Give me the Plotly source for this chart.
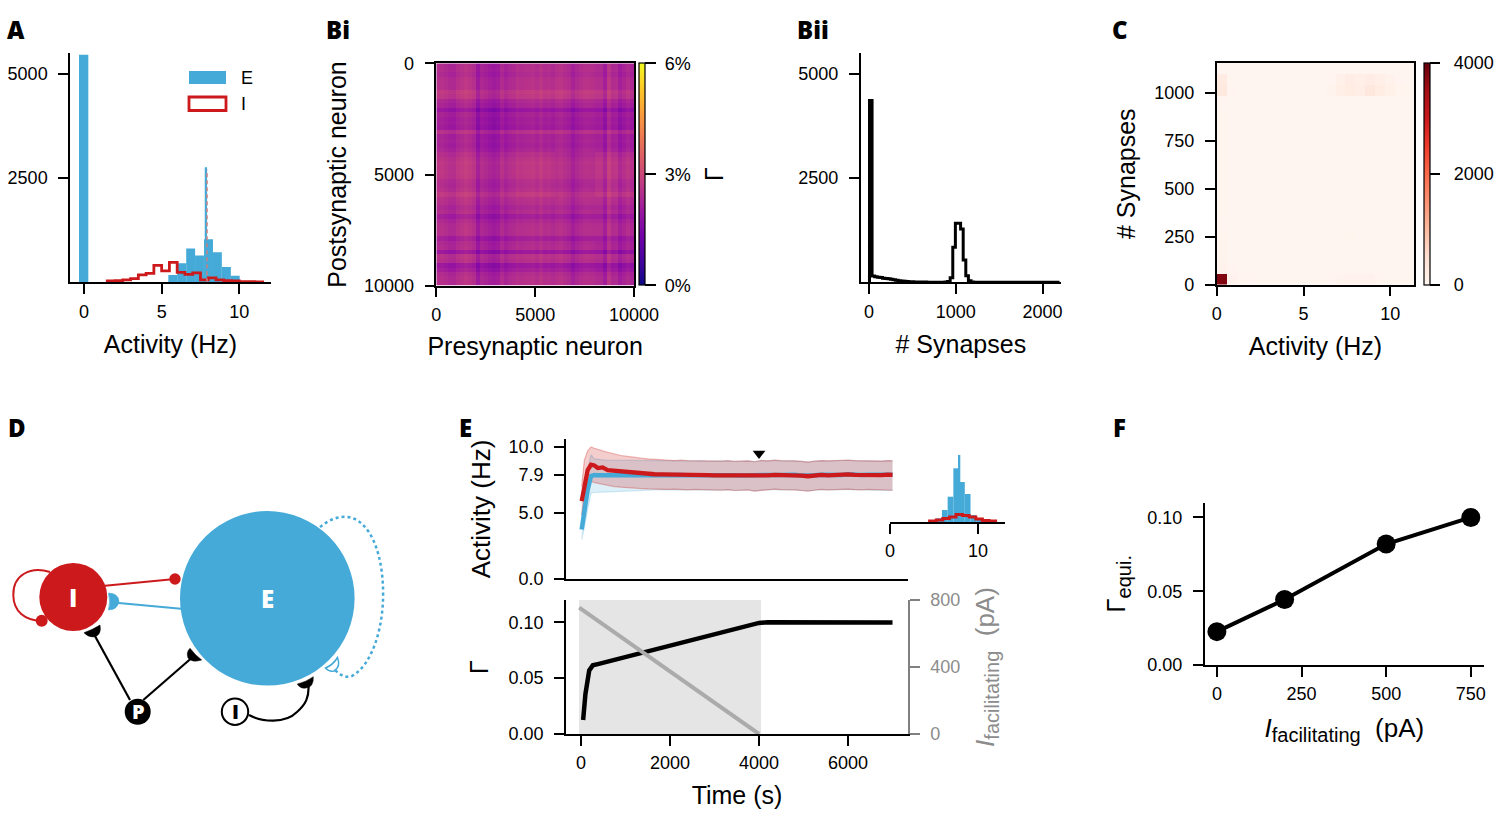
import plotly.graph_objects as go

W, H = 1500, 822
BLUE = '#45AAD8'
RED = '#CC1A1C'
FONT = 'Liberation Sans'

# --- Panel A: activity histogram
e_left = [-0.32, 5.43, 6.0, 6.58, 7.15, 7.73, 8.3, 8.88, 9.45]
e_width = [0.6, 0.575, 0.575, 0.575, 0.575, 0.575, 0.575, 0.575, 0.575]
e_counts = [5460, 176, 456, 808, 640, 1032, 720, 368, 160]
spike_x = [7.85]
spike_counts = [2760]
mean_rate = [7.92, 7.92]
mean_rate_y = [0, 2700]
i_edges = [1.5, 2, 2.5, 3, 3.5, 4, 4.5, 5, 5.5, 6, 6.5, 7, 7.5, 8, 8.5, 9, 9.5, 10, 10.5, 11, 11.5]
i_counts = [32, 40, 56, 88, 176, 216, 408, 272, 480, 240, 192, 224, 56, 104, 56, 40, 32, 16, 16, 8]

# --- Panel Bi: connectivity matrix, stripe profiles (% around the mean)
gamma_mean = 2.33
row_profile = [0.0, .04, -.04, .08, .1, .1, .32, .25, -.04, -.14, -.36, -.08, -.18, -.14, -.22, .22, -.08, -.04, -.1, 0.0,
               .04, .14, .22, .18, .22, .18, .04, 0.0, .08, .28, .14, .1, -.04, .04, -.25, -.04, .08, .1, .1, -.22,
               -.04, 0.0, -.4, .14, .08, -.4, -.25, 0.0, .08, .08]
col_profile = [.04, .08, 0.0, -.08, -.1, .08, .14, .22, .14, .04, -.28, 0.0, -.08, -.18, -.25, -.18, .08, -.08, .04, .08,
               .1, .04, .08, .1, .14, .04, .18, .04, .08, 0.0, .08, .14, .04, -.04, -.25, -.1, 0.0, .08, .08, .04,
               .04, .04, -.25, .25, 0.0, .04, -.25, -.1, .04, -.08]
patches = [[.04, -.08, .04, .08, 0.0],
           [-.04, -.18, -.08, -.04, -.1],
           [.08, -.04, .08, -.04, .1],
           [.04, -.08, 0.0, 0.0, 0.0],
           [.04, -.04, .04, .04, -.04]]
neuron_step = 200

# --- Panel Bii: synapse count histogram
syn_start, syn_width = 5, 30
syn_counts = [4360, 150, 135, 120, 115, 100, 90, 85, 75, 60, 50, 40, 32, 26, 20, 16, 13, 10, 8, 7,
              6, 5, 4, 4, 3, 3, 3, 2, 2, 10, 20, 110, 840, 1416, 1416, 1280, 536, 160, 40, 10,
              0, 0, 0, 0, 0, 0, 0, 0, 0, 0, 0, 0, 0, 0, 0, 0, 0, 0, 0, 0,
              0, 0, 0, 0, 0, 0, 0, 0, 0, 0, 0, 0, 0]

# --- Panel C: joint histogram, row 0 is the bottom row
act_bin, syn_bin = 0.569, 57.8
joint = [
    [3800, 70, 30, 20, 10, 10, 10, 10, 10, 10, 10, 20, 40, 60, 60, 60, 30, 10, 10, 10],
    [60, 20, 0, 0, 0, 0, 0, 0, 0, 0, 0, 0, 0, 0, 0, 0, 0, 0, 0, 0],
    [50, 0, 0, 0, 0, 0, 0, 0, 0, 0, 0, 0, 0, 0, 0, 0, 0, 0, 0, 0],
    [40, 0, 0, 0, 0, 0, 0, 0, 0, 0, 0, 0, 0, 0, 0, 0, 0, 0, 0, 0],
    [30, 0, 0, 0, 0, 0, 0, 0, 0, 0, 0, 0, 0, 10, 0, 0, 0, 0, 0, 0],
    [20, 0, 0, 0, 0, 0, 0, 0, 0, 0, 0, 0, 0, 0, 0, 0, 0, 0, 0, 0],
    [10, 0, 0, 0, 0, 0, 0, 0, 0, 0, 0, 0, 0, 0, 0, 0, 0, 0, 0, 0],
    [10, 0, 0, 0, 0, 0, 0, 0, 0, 0, 0, 0, 0, 0, 0, 0, 0, 0, 0, 0],
    [10, 0, 0, 0, 0, 0, 0, 0, 0, 0, 0, 0, 0, 0, 0, 0, 0, 0, 0, 0],
    [10, 0, 0, 0, 0, 0, 0, 0, 0, 0, 0, 0, 0, 0, 0, 0, 0, 0, 0, 0],
    [10, 0, 0, 0, 0, 0, 0, 0, 0, 0, 0, 0, 0, 0, 0, 0, 0, 0, 0, 0],
    [10, 0, 0, 0, 0, 0, 0, 0, 0, 0, 0, 0, 0, 0, 0, 0, 0, 0, 0, 0],
    [10, 0, 0, 0, 0, 0, 0, 0, 0, 0, 0, 0, 0, 0, 0, 0, 0, 0, 0, 0],
    [10, 0, 0, 0, 0, 0, 0, 0, 0, 0, 0, 0, 0, 0, 0, 0, 0, 0, 0, 0],
    [10, 0, 0, 0, 0, 0, 0, 0, 0, 0, 0, 0, 0, 0, 0, 0, 0, 0, 0, 0],
    [10, 0, 0, 0, 0, 0, 0, 0, 0, 0, 0, 0, 0, 0, 0, 0, 0, 0, 0, 0],
    [20, 0, 0, 0, 0, 0, 0, 0, 0, 0, 0, 0, 0, 0, 0, 0, 0, 0, 0, 0],
    [280, 20, 0, 0, 0, 0, 0, 0, 0, 0, 0, 40, 150, 220, 170, 300, 200, 130, 30, 10],
    [240, 10, 0, 0, 0, 0, 0, 0, 0, 0, 0, 20, 120, 180, 150, 190, 150, 90, 20, 0],
    [0, 0, 0, 0, 0, 0, 0, 0, 0, 0, 0, 0, 0, 0, 0, 0, 0, 0, 0, 0],
]
reds = ['#fff5f0', '#fee0d2', '#fcbba1', '#fc9272', '#fb6a4a', '#ef3b2c', '#cb181d', '#a50f15', '#67000d']

# --- Panel E: activity over time
t_e = [15, 75, 150, 225, 300, 375, 487, 600, 750, 900, 1050, 1200, 1350, 1500, 1650, 1800,
       1950, 2100, 2250, 2400, 2550, 2700, 2850, 3000, 3150, 3300, 3450, 3600, 3750, 3900, 4050, 4200, 4350, 4500,
       4650, 4800, 4950, 5100, 5250, 5400, 5550, 5700, 5850, 6000, 6150, 6300, 6450, 6600, 6750, 6900, 7000]
red_mean = [5.9, 7.0, 8.25, 8.65, 8.6, 8.4, 8.45, 8.25, 8.2, 8.15, 8.08, 8.0, 7.98, 7.95, 7.93, 7.92,
            7.9, 7.88, 7.9, 7.87, 7.85, 7.88, 7.86, 7.85, 7.84, 7.87, 7.84, 7.83, 7.85, 7.8, 7.86, 7.84, 7.88, 7.87,
            7.9, 7.88, 7.82, 7.78, 7.85, 7.88, 7.85, 7.9, 7.87, 7.92, 7.88, 7.86, 7.9, 7.88, 7.86, 7.9, 7.88]
blue_mean = [3.75, 5.1, 6.75, 7.8, 7.87, 7.85, 7.88, 7.85, 7.85, 7.86, 7.85, 7.87, 7.86, 7.85, 7.87, 7.85,
             7.88, 7.86, 7.87, 7.85, 7.86, 7.88, 7.85, 7.86, 7.84, 7.87, 7.85, 7.84, 7.86, 7.83, 7.87, 7.85, 7.88, 7.87,
             7.9, 7.9, 7.84, 7.82, 7.86, 7.9, 7.87, 7.9, 7.88, 7.93, 7.89, 7.87, 7.9, 7.89, 7.87, 7.9, 7.89]
red_up = [7.0, 9.0, 9.7, 10.0, 9.9, 9.8, 9.7, 9.6, 9.45, 9.35, 9.28, 9.2, 9.15, 9.1, 9.05, 9.02,
          9.0, 8.97, 9.0, 8.96, 8.95, 8.98, 8.93, 8.95, 8.92, 8.96, 8.9, 8.92, 8.95, 8.88, 8.98, 8.95, 9.0, 8.96,
          8.98, 8.95, 8.9, 8.85, 8.92, 8.97, 8.95, 8.98, 8.96, 9.0, 8.97, 8.95, 8.98, 8.96, 8.93, 8.97, 8.95]
red_lo = [4.85, 5.9, 6.9, 7.4, 7.3, 7.25, 7.15, 7.05, 7.0, 6.95, 6.9, 6.88, 6.85, 6.82, 6.8, 6.8,
          6.78, 6.8, 6.77, 6.75, 6.78, 6.76, 6.74, 6.75, 6.72, 6.76, 6.7, 6.72, 6.75, 6.66, 6.72, 6.74, 6.8, 6.76,
          6.78, 6.75, 6.7, 6.66, 6.72, 6.78, 6.75, 6.78, 6.76, 6.8, 6.76, 6.74, 6.78, 6.76, 6.72, 6.7, 6.72]
blue_up = [4.85, 6.8, 8.3, 9.4, 9.1, 9.05, 9.02, 9.0, 9.0, 8.98, 9.0, 8.97, 8.98, 8.96, 8.97, 8.96,
           8.98, 8.96, 8.98, 8.95, 8.94, 8.97, 8.93, 8.94, 8.92, 8.95, 8.9, 8.91, 8.94, 8.88, 8.97, 8.94, 8.98, 8.95,
           8.97, 8.95, 8.9, 8.86, 8.92, 8.96, 8.94, 8.97, 8.95, 8.99, 8.96, 8.94, 8.97, 8.95, 8.93, 8.96, 8.94]
blue_lo = [3.0, 3.9, 5.3, 6.5, 6.55, 6.55, 6.58, 6.6, 6.62, 6.65, 6.67, 6.68, 6.7, 6.72, 6.74, 6.75,
           6.76, 6.78, 6.76, 6.74, 6.77, 6.75, 6.73, 6.74, 6.72, 6.75, 6.7, 6.72, 6.74, 6.66, 6.73, 6.74, 6.79, 6.75,
           6.77, 6.75, 6.7, 6.67, 6.72, 6.77, 6.75, 6.77, 6.76, 6.79, 6.76, 6.74, 6.77, 6.75, 6.72, 6.7, 6.72]
arrow_t = [4000]
arrow_y = [9.5]

# inset histogram
inset_e_left = [5.25, 5.9, 6.55, 7.2, 7.85, 8.5, 9.15, 9.8]
inset_e_counts = [155, 500, 1057, 2244, 1670, 1170, 290, 85]
inset_spike_x = [7.9]
inset_spike = [2800]
inset_i_edges = [4.5, 5.25, 6, 6.75, 7.5, 8.25, 9, 9.75, 10.5, 11.25, 12]
inset_i_counts = [40, 85, 145, 210, 315, 270, 210, 125, 60, 40]

# --- Panel E, lower: Gamma and facilitating current
t_gamma = [48, 100, 185, 265, 400, 1000, 2000, 3000, 4000, 4200, 5000, 6000, 7000]
gamma = [0.0125, 0.036, 0.057, 0.0615, 0.0628, 0.069, 0.0791, 0.0893, 0.0995, 0.1, 0.1, 0.0998, 0.0998]
t_current = [-40, 4000]
current = [755, 0]
stim_window = [-45, 4045]

# --- Panel F
i_fac = [0, 200, 500, 750]
gamma_equi = [0.0226, 0.0444, 0.082, 0.1]

I_FAC = '<i>I</i><sub><span style="font-size:20px">facilitating</span></sub>&nbsp;&nbsp;(pA)'
G_EQUI = 'Γ<sub><span style="font-size:20px">equi.</span></sub>'


def px(x):
    return x / W


def py(y):
    return 1 - y / H


def dom_x(x0, x1):
    return [px(x0), px(x1)]


def dom_y(y0, y1):
    return [py(y1), py(y0)]


def step_xy(edges, counts):
    xs = [edges[0]] + list(edges)
    ys = [0] + list(counts) + [0]
    return xs, ys


def axis(tickvals=None, ticktext=None, size=18, standoff=7, **kw):
    d = dict(showgrid=False, zeroline=False, showline=True, linecolor='black', linewidth=1.5,
             ticks='outside', ticklen=10, tickwidth=1.5, tickcolor='black', color='black',
             tickfont=dict(family=FONT, size=size, color='black'), ticklabelstandoff=standoff)
    if tickvals is not None:
        d['tickmode'] = 'array'
        d['tickvals'] = tickvals
        d['ticktext'] = ticktext if ticktext is not None else [str(v) for v in tickvals]
    d.update(kw)
    return d


def title(text, standoff, size=25, color='black'):
    return dict(text=text, standoff=standoff, font=dict(family=FONT, size=size, color=color))


fig = go.Figure()

# A
fig.add_trace(go.Bar(x=[l + w / 2 for l, w in zip(e_left, e_width)], y=e_counts, width=e_width,
                     marker=dict(color=BLUE, line=dict(width=0)), xaxis='x', yaxis='y'))
fig.add_trace(go.Bar(x=spike_x, y=spike_counts, width=0.15, marker=dict(color=BLUE, line=dict(width=0)),
                     xaxis='x', yaxis='y'))
sx, sy = step_xy(i_edges, i_counts)
fig.add_trace(go.Scatter(x=sx, y=sy, mode='lines', line=dict(color=RED, width=2.8, shape='hv'),
                         cliponaxis=False, xaxis='x', yaxis='y'))
fig.add_trace(go.Scatter(x=mean_rate, y=mean_rate_y, mode='lines', line=dict(color='#C98080', width=1.5, dash='4px,3px'),
                         xaxis='x', yaxis='y'))

# Bi
n = len(row_profile)
gamma_z = [[gamma_mean + row_profile[i] + col_profile[j] + patches[i // 10][j // 10] for j in range(n)] for i in range(n)]
neurons = [neuron_step * (k + 0.5) for k in range(n)]
fig.add_trace(go.Heatmap(z=gamma_z, x=neurons, y=neurons, colorscale='Plasma', zmin=0, zmax=6,
                         xaxis='x2', yaxis='y2',
                         colorbar=dict(x=px(639), xanchor='left', y=py(63.3), yanchor='top', xpad=0, ypad=0,
                                       lenmode='pixels', len=222.4, thicknessmode='pixels', thickness=6,
                                       outlinewidth=1.2, outlinecolor='black', ticks='outside', ticklen=11,
                                       tickwidth=1.5, tickcolor='black', tickmode='array', tickvals=[0, 3, 6],
                                       ticktext=['\u00a00%', '\u00a03%', '\u00a06%'],
                                       tickfont=dict(family=FONT, size=18, color='black'))))

# Bii
syn_edges = [syn_start + syn_width * k for k in range(len(syn_counts) + 1)]
sx, sy = step_xy(syn_edges, syn_counts)
fig.add_trace(go.Scatter(x=sx, y=sy, mode='lines', line=dict(color='black', width=3, shape='hv'),
                         cliponaxis=False, xaxis='x3', yaxis='y3'))

# C
fig.add_trace(go.Heatmap(z=joint, x=[act_bin * (k + 0.5) for k in range(20)], y=[syn_bin * (k + 0.5) for k in range(20)],
                         colorscale=[[k / 8, c] for k, c in enumerate(reds)], zmin=0, zmax=4000, xaxis='x4', yaxis='y4',
                         colorbar=dict(x=px(1424), xanchor='left', y=py(62.7), yanchor='top', xpad=0, ypad=0,
                                       lenmode='pixels', len=222, thicknessmode='pixels', thickness=6,
                                       outlinewidth=1.2, outlinecolor='black', ticks='outside', ticklen=10,
                                       tickwidth=1.5, tickcolor='black', tickmode='array', tickvals=[0, 2000, 4000],
                                       ticktext=['\u00a0\u00a00', '\u00a0\u00a02000', '\u00a0\u00a04000'],
                                       tickfont=dict(family=FONT, size=18, color='black'))))

# E upper
for up, lo, col, fillcol in [(blue_up, blue_lo, 'rgba(69,170,216,0.25)', 'rgba(69,170,216,0.18)'),
                             (red_up, red_lo, 'rgba(204,26,28,0.3)', 'rgba(204,26,28,0.22)')]:
    fig.add_trace(go.Scatter(x=t_e, y=up, mode='lines', line=dict(color=col, width=1.2), xaxis='x5', yaxis='y5'))
    fig.add_trace(go.Scatter(x=t_e, y=lo, mode='lines', line=dict(color=col, width=1.2), fill='tonexty', fillcolor=fillcol,
                             xaxis='x5', yaxis='y5'))
fig.add_trace(go.Scatter(x=t_e, y=blue_mean, mode='lines', line=dict(color=BLUE, width=4.5), xaxis='x5', yaxis='y5'))
fig.add_trace(go.Scatter(x=t_e, y=red_mean, mode='lines', line=dict(color=RED, width=4.3), xaxis='x5', yaxis='y5'))
fig.add_trace(go.Scatter(x=arrow_t, y=arrow_y, mode='markers', marker=dict(symbol='triangle-down', color='black', size=11),
                         xaxis='x5', yaxis='y5'))

# inset
fig.add_trace(go.Bar(x=[l + 0.325 for l in inset_e_left], y=inset_e_counts, width=0.65,
                     marker=dict(color=BLUE, line=dict(width=0)), xaxis='x8', yaxis='y8'))
fig.add_trace(go.Bar(x=inset_spike_x, y=inset_spike, width=0.18, marker=dict(color=BLUE, line=dict(width=0)),
                     xaxis='x8', yaxis='y8'))
sx, sy = step_xy(inset_i_edges, inset_i_counts)
fig.add_trace(go.Scatter(x=sx, y=sy, mode='lines', line=dict(color=RED, width=3, shape='hv'), cliponaxis=False,
                         xaxis='x8', yaxis='y8'))

# E lower
fig.add_trace(go.Scatter(x=t_gamma, y=gamma, mode='lines', line=dict(color='black', width=4.5), xaxis='x6', yaxis='y6'))
fig.add_trace(go.Scatter(x=t_current, y=current, mode='lines', line=dict(color='#ABABAB', width=4), xaxis='x6', yaxis='y7'))

# F
fig.add_trace(go.Scatter(x=i_fac, y=gamma_equi, mode='lines+markers', line=dict(color='black', width=4),
                         marker=dict(color='black', size=19), cliponaxis=False, xaxis='x9', yaxis='y9'))

# panel letters, colourbar label and legend text
annotations = []
for text, x, y in [('A', 16, 30), ('Bi', 338, 29), ('Bii', 813, 29), ('C', 1120, 29),
                   ('D', 17, 427), ('E', 465, 427), ('F', 1119, 427)]:
    annotations.append(dict(text=text, x=px(x), y=py(y), xref='paper', yref='paper', xanchor='center', yanchor='middle',
                            showarrow=False, font=dict(family='Open Sans', size=24, color='black', weight=800)))
for text, x, y, ang, col, size, bold in [
    ('E', 247, 78, 0, 'black', 18, False), ('I', 244, 104, 0, 'black', 18, False),
    ('Γ', 714, 174, -90, 'black', 25, False),
    ('E', 267, 598, 0, 'white', 24, True), ('I', 73, 597, 0, 'white', 24, True),
    ('P', 138, 711, 0, 'white', 20, True), ('I', 235, 711, 0, 'black', 20, True)]:
    annotations.append(dict(text=text, x=px(x), y=py(y), xref='paper', yref='paper', xanchor='center', yanchor='middle',
                            showarrow=False, textangle=ang,
                            font=dict(family='Open Sans' if bold else FONT, size=size, color=col,
                                      weight=800 if bold else 400)))


def path(cmds):
    out = []
    for c in cmds:
        vals = c[1:]
        pts = [f'{px(vals[k]):.5f},{py(vals[k + 1]):.5f}' for k in range(0, len(vals), 2)]
        out.append(c[0] + ' ' + ' '.join(pts))
    return ' '.join(out)


def curve(cmds, color, width=1.8, fill=None, dash=None):
    return dict(type='path', xref='paper', yref='paper', path=path(cmds) + (' Z' if fill else ''),
                line=dict(color=color, width=width, dash=dash or 'solid'), fillcolor=fill)


def disc(cx, cy, r, fill, line=None, width=0):
    return dict(type='circle', xref='paper', yref='paper', x0=px(cx - r), x1=px(cx + r), y0=py(cy + r), y1=py(cy - r),
                fillcolor=fill, line=dict(color=line or fill, width=width))


def rect(x0, y0, x1, y1, fill, line=None, width=0):
    return dict(type='rect', xref='paper', yref='paper', x0=px(x0), x1=px(x1), y0=py(y1), y1=py(y0),
                fillcolor=fill, line=dict(color=line or fill, width=width))


shapes = [
    # stimulation window in panel E
    dict(type='rect', xref='x6', yref='y6', x0=stim_window[0], x1=stim_window[1], y0=0, y1=0.12,
         fillcolor='#E5E5E5', line=dict(width=0), layer='below'),
    # legend of panel A
    rect(189, 71, 226, 84, BLUE),
    rect(189, 97, 226, 110.5, 'white', RED, 2.8),
    # panel D
    curve([('M', 320, 527), ('C', 335, 515, 352, 512, 365, 527), ('C', 378, 542, 384, 570, 383, 600),
           ('C', 382, 630, 372, 665, 352, 676), ('C', 345, 678, 340, 675, 335, 670)], BLUE, 2.5, dash='dot'),
    curve([('M', 50, 572), ('C', 30, 566, 13, 575, 13.3, 595), ('C', 13.5, 612, 25, 620, 41, 621)], RED, 2),
    curve([('M', 105, 585.7), ('L', 175, 579)], RED, 2),
    curve([('M', 181, 608.7), ('L', 116, 602.7)], BLUE, 2),
    curve([('M', 130, 700), ('L', 93.3, 633)], 'black', 2.2),
    curve([('M', 143.3, 700), ('L', 195, 655)], 'black', 2.2),
    curve([('M', 249, 715), ('C', 262, 722, 285, 724, 297, 712), ('C', 306, 704, 309, 697, 308.5, 686)], 'black', 2.2),
    disc(267.3, 598.3, 87.3, BLUE),
    disc(73.3, 597, 34, RED),
    disc(41.7, 620.7, 6, RED),
    disc(175, 579, 5.7, RED),
    curve([('M', 108.3, 593), ('Q', 111, 602, 108.3, 610), ('Q', 118, 610, 119, 601), ('Q', 118, 593, 108.3, 593)], BLUE, 0.5, fill=BLUE),
    curve([('M', 84, 632.7), ('Q', 92, 630, 100, 625), ('Q', 102, 636, 93, 637), ('Q', 88, 637, 84, 632.7)], 'black', 0.5, fill='black'),
    curve([('M', 190, 648.3), ('Q', 195, 655, 201.7, 660), ('Q', 192, 663, 188, 658), ('Q', 186, 652, 190, 648.3)], 'black', 0.5, fill='black'),
    curve([('M', 297.3, 684), ('Q', 306, 682, 313.3, 676.7), ('Q', 314, 687, 306, 688), ('Q', 300, 689, 297.3, 684)], 'black', 0.5, fill='black'),
    curve([('M', 325.5, 668), ('Q', 333, 665, 337.5, 657.5), ('Q', 341, 667, 334, 671), ('Q', 329, 672, 325.5, 668)], BLUE, 1.5, fill='white'),
    disc(137.7, 711.7, 13, 'black'),
    disc(235, 711.7, 13.2, 'white', 'black', 2),
]

fig.update_layout(
    width=W, height=H, margin=dict(l=0, r=0, t=0, b=0, autoexpand=False), paper_bgcolor='white', plot_bgcolor='rgba(0,0,0,0)',
    showlegend=False, barmode='overlay', annotations=annotations, shapes=shapes,
    font=dict(family=FONT, color='black'),
    # A
    xaxis=axis([0, 5, 10], standoff=2, domain=dom_x(70, 271), anchor='y', range=[-0.9, 12.04], title=title('Activity (Hz)', 15)),
    yaxis=axis([2500, 5000], domain=dom_y(53, 282.3), anchor='x', range=[0, 5500]),
    # Bi
    xaxis2=axis([0, 5000, 10000], standoff=2, domain=dom_x(436.3, 634), anchor='y2', range=[0, 10000], mirror=True,
                title=title('Presynaptic neuron', 13)),
    yaxis2=axis([0, 5000, 10000], domain=dom_y(63.3, 285.7), anchor='x2', range=[10000, 0], mirror=True,
                title=title('Postsynaptic neuron', 10)),
    # Bii
    xaxis3=axis([0, 1000, 2000], standoff=2, domain=dom_x(860.7, 1061), anchor='y3', range=[-96, 2212], title=title('# Synapses', 15)),
    yaxis3=axis([2500, 5000], domain=dom_y(53, 282.3), anchor='x3', range=[0, 5500]),
    # C
    xaxis4=axis([0, 5, 10], standoff=2, domain=dom_x(1216.7, 1414.3), anchor='y4', range=[0, 11.38], mirror=True,
                title=title('Activity (Hz)', 14)),
    yaxis4=axis([0, 250, 500, 750, 1000], domain=dom_y(62.7, 284.7), anchor='x4', range=[0, 1156], mirror=True,
                title=title('# Synapses', 12)),
    # E upper
    xaxis5=axis([], domain=dom_x(566, 908), anchor='y5', range=[-337, 7348], ticks='', showticklabels=False),
    yaxis5=axis([0, 5, 7.9, 10], ['0.0', '5.0', '7.9', '10.0'], domain=dom_y(439, 579), anchor='x5', range=[0, 10.6],
                title=title('Activity (Hz)', 11, size=26)),
    # E lower
    xaxis6=axis([0, 2000, 4000, 6000], standoff=2, domain=dom_x(566, 908), anchor='y6', range=[-337, 7348], title=title('Time (s)', 14)),
    yaxis6=axis([0, 0.05, 0.1], ['0.00', '0.05', '0.10'], domain=dom_y(600, 734), anchor='x6', range=[0, 0.12],
                title=title('Γ', 13)),
    yaxis7=axis([0, 400, 800], domain=dom_y(600, 734), anchor='x6', overlaying='y6', side='right', range=[0, 800],
                linecolor='#808080', tickcolor='#808080', color='#8C8C8C',
                tickfont=dict(family=FONT, size=18, color='#8C8C8C'),
                title=title(I_FAC, 16, size=26, color='#8C8C8C')),
    # inset
    xaxis8=axis([0, 10], standoff=2, domain=dom_x(890, 1005), anchor='y8', range=[0, 13.07]),
    yaxis8=dict(domain=dom_y(455, 522), anchor='x8', range=[0, 2800], visible=False),
    # F
    xaxis9=axis([0, 250, 500, 750], standoff=2, domain=dom_x(1204.7, 1484), anchor='y9', range=[-36, 789],
                title=title(I_FAC, 15, size=26)),
    yaxis9=axis([0, 0.05, 0.1], ['0.00', '0.05', '0.10'], domain=dom_y(502.7, 665), anchor='x9', range=[0, 0.11],
                title=title(G_EQUI, 14, size=26)),
)

fig.write_html("out.html", config=dict(displayModeBar=False),
               post_script="document.body.style.margin='0';")
